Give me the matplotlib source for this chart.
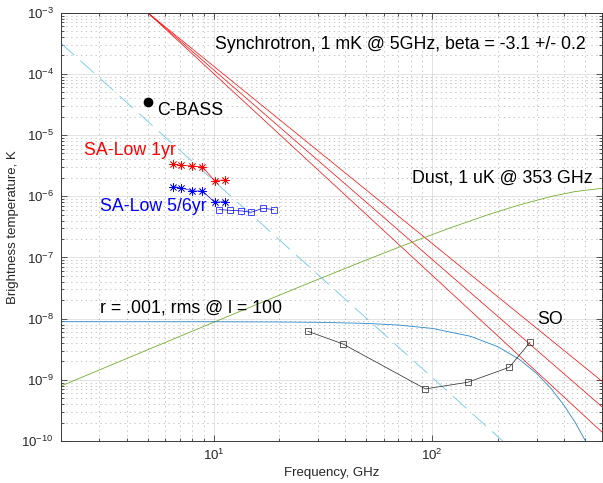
import matplotlib
matplotlib.use("Agg")
import matplotlib.pyplot as plt
from matplotlib.ticker import LogLocator, NullFormatter

plt.rcParams['font.family'] = ['Liberation Sans', 'DejaVu Sans']
plt.rcParams['mathtext.fontset'] = 'custom'
plt.rcParams['mathtext.rm'] = 'Liberation Sans'
plt.rcParams['mathtext.it'] = 'Liberation Sans:italic'
plt.rcParams['mathtext.default'] = 'regular'
plt.rcParams['lines.scale_dashes'] = False

# ---- data -------------------------------------------------------------
# synchrotron power laws, 1 mK at 5 GHz, beta = -2.9 / -3.1 / -3.3
sync_freq = [5.0, 600.0]
sync_hi = [1e-3, 9.34e-10]
sync_mid = [1e-3, 3.58e-10]
sync_lo = [1e-3, 1.376e-10]

# thermal dust, 1 uK at 353 GHz
dust_freq = [2, 3, 5, 8, 12, 20, 30, 50, 80, 120, 180, 250, 353, 450, 600]
dust_temp = [7.88e-10, 1.445e-9, 3.10e-9, 6.24e-9, 1.139e-8, 2.42e-8, 4.373e-8,
             9.11e-8, 1.754e-7, 3.012e-7, 4.989e-7, 7.209e-7, 1.0e-6,
             1.192e-6, 1.354e-6]

# r = 0.001 B-mode rms at l = 100
cmb_freq = [2, 10, 20, 30, 50, 70, 100, 150, 200, 250, 300, 350, 400, 450, 500, 550]
cmb_temp = [8.9e-9, 8.88e-9, 8.81e-9, 8.70e-9, 8.35e-9, 7.85e-9, 6.92e-9,
            5.13e-9, 3.46e-9, 2.16e-9, 1.27e-9, 7.14e-10, 3.86e-10,
            2.02e-10, 1.03e-10, 5.2e-11]

# dashed reference slope
ref_freq = [2.0, 210.0]
ref_temp = [3.2e-4, 1e-10]

# C-BASS
cbass_freq = [5.0]
cbass_temp = [3.44e-5]

# SA-Low sensitivities
sa_freq = [6.5, 7.1, 8.0, 8.9, 10.1, 11.3]
sa_1yr = [3.33e-6, 3.21e-6, 3.13e-6, 3.01e-6, 1.80e-6, 1.85e-6]
sa_56yr = [1.44e-6, 1.38e-6, 1.22e-6, 1.22e-6, 7.98e-7, 8.17e-7]
sa_sq_freq = [10.6, 11.9, 13.4, 14.9, 16.8, 18.8]
sa_sq_temp = [6.04e-7, 5.9e-7, 5.75e-7, 5.48e-7, 6.37e-7, 6.04e-7]

# SO bands
so_freq = [27, 39, 93, 145, 225, 280]
so_temp = [6.2e-9, 3.86e-9, 7.1e-10, 9.1e-10, 1.6e-9, 4.1e-9]

# axis ticks
x_ticks = [10, 100]
y_ticks = [1e-10, 1e-9, 1e-8, 1e-7, 1e-6, 1e-5, 1e-4, 1e-3]

# ---- figure -----------------------------------------------------------
fig = plt.figure(figsize=(6.03, 4.83), dpi=100)
ax = fig.add_axes([0.1007, 0.087, 0.8983, 0.8867])

axis_col = '#3a3a3a'
asterisk = (8, 2, 0)

ax.plot(sync_freq, sync_hi, color='red', lw=0.5)
ax.plot(sync_freq, sync_mid, color='red', lw=0.5)
ax.plot(sync_freq, sync_lo, color='red', lw=0.5)
ax.plot(dust_freq, dust_temp, color='#77AC30', lw=0.6)
ax.plot(cmb_freq, cmb_temp, color='#2a86c8', lw=0.6)
ax.plot(ref_freq, ref_temp, color='#6cc8ee', lw=0.6, dashes=(13, 6))
ax.plot(cbass_freq, cbass_temp, 'o', color='black', ms=6)
ax.plot(sa_freq, sa_1yr, color='red', lw=0.5, marker=asterisk, ms=6, mew=0.5)
ax.plot(sa_freq, sa_56yr, color='blue', lw=0.5, marker=asterisk, ms=6, mew=0.5)
ax.plot(sa_sq_freq, sa_sq_temp, color='blue', lw=0.5, marker='s', ms=4.5,
        mfc='none', mew=0.5)
ax.plot(so_freq, so_temp, color='#222222', lw=0.5, marker='s', ms=5,
        mfc='none', mew=0.5)

ax.set_xscale('log')
ax.set_yscale('log')
ax.set_xlim(2, 600)
ax.set_ylim(1e-10, 1e-3)

ax.set_xticks(x_ticks)
ax.set_yticks(y_ticks)
ax.yaxis.set_minor_locator(LogLocator(base=10, subs=range(2, 10), numticks=20))
ax.yaxis.set_minor_formatter(NullFormatter())
ax.xaxis.set_minor_formatter(NullFormatter())
ax.xaxis.get_offset_text().set_visible(False)
ax.yaxis.get_offset_text().set_visible(False)

ax.grid(which='major', color='#262626', alpha=0.15, lw=0.6, ls='-')
ax.grid(which='minor', color='#262626', alpha=0.3, lw=0.6, ls=(0, (1, 2.5)))

ax.tick_params(which='both', direction='in', top=True, right=True,
               colors=axis_col, labelcolor='#262626', labelsize=9.5, width=0.6)
ax.tick_params(which='major', length=4)
ax.tick_params(which='minor', length=2.5)
ax.tick_params(axis='y', pad=5)
ax.tick_params(axis='x', pad=5)
for sp in ax.spines.values():
    sp.set_color(axis_col)
    sp.set_linewidth(0.7)

ax.set_xlabel('Frequency, GHz', fontsize=9.5, color='#262626', labelpad=3)
ax.set_ylabel('Brightness temperature, K', fontsize=9.5, color='#262626', labelpad=2)

fs = 12.8
ax.text(10.1, 3.05e-4, 'Synchrotron, 1 mK @ 5GHz, beta = -3.1 +/- 0.2',
        fontsize=fs, va='center', ha='left')
ax.text(5.54, 2.5e-5, 'C-BASS', fontsize=fs, va='center', ha='left')
ax.text(2.545, 5.7e-6, 'SA-Low 1yr', fontsize=fs, va='center', ha='left', color='red')
ax.text(3.03, 6.76e-7, 'SA-Low 5/6yr', fontsize=fs, va='center', ha='left', color='blue')
ax.text(80.5, 1.97e-6, 'Dust, 1 uK @ 353 GHz', fontsize=fs, va='center', ha='left')
ax.text(3.03, 1.48e-8, 'r = .001, rms @ l = 100', fontsize=fs, va='center', ha='left')
ax.text(301, 9.77e-9, 'SO', fontsize=fs, va='center', ha='left')

fig.savefig('out.png', dpi=100)
